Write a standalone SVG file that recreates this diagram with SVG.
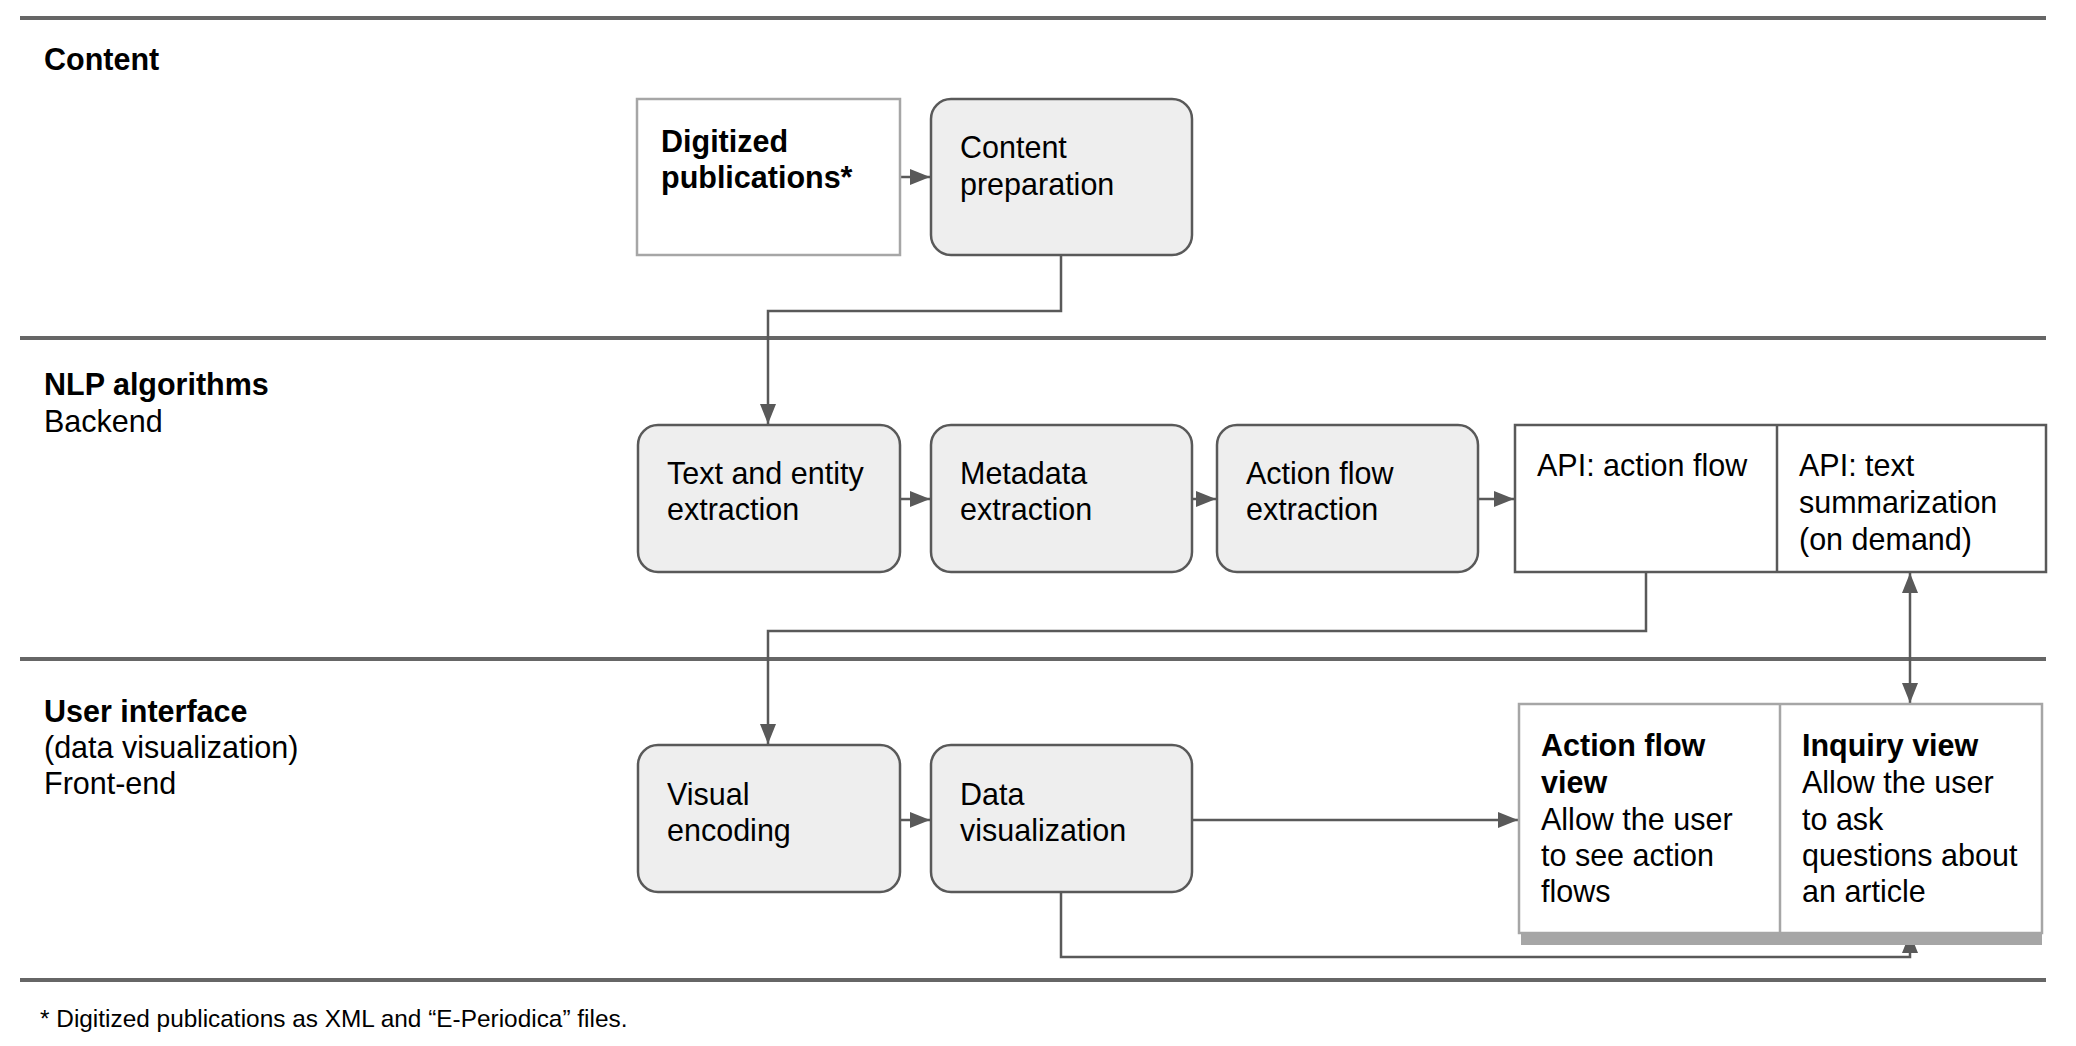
<svg xmlns="http://www.w3.org/2000/svg" width="2076" height="1046" viewBox="0 0 2076 1046">
<style>
text{font-family:"Liberation Sans",Arial,sans-serif;font-size:30.5px;fill:#000}
.b{font-weight:bold}
.fn{font-size:24.4px}
.sec{stroke:#666;stroke-width:4;fill:none}
.proc{fill:#eeeeee;stroke:#595959;stroke-width:2.5}
.plain{fill:#fff;stroke:#595959;stroke-width:2.5}
.light{fill:#fff;stroke:#a6a6a6;stroke-width:2.5}
.con{stroke:#595959;stroke-width:2.5;fill:none}
</style>
<defs>
<marker id="ah" viewBox="0 0 20 16" refX="20" refY="8" markerWidth="20" markerHeight="16" markerUnits="userSpaceOnUse" orient="auto-start-reverse">
<path d="M0,0 L20,8 L0,16 Z" fill="#595959"/>
</marker>
</defs>
<rect width="2076" height="1046" fill="#fff"/>
<g id="sections">
<line class="sec" x1="20" y1="18" x2="2046" y2="18"/>
<line class="sec" x1="20" y1="338" x2="2046" y2="338"/>
<line class="sec" x1="20" y1="659" x2="2046" y2="659"/>
<line class="sec" x1="20" y1="980" x2="2046" y2="980"/>
<text class="b" x="44" y="70">Content</text>
<text x="44" y="395"><tspan class="b">NLP algorithms</tspan><tspan x="44" y="432">Backend</tspan></text>
<text x="44" y="722"><tspan class="b">User interface</tspan><tspan x="44" y="758">(data visualization)</tspan><tspan x="44" y="794">Front-end</tspan></text>
<text class="fn" x="40" y="1027">* Digitized publications as XML and “E-Periodica” files.</text>
</g>
<g id="connectors">
<line class="con" x1="900" y1="177" x2="930" y2="177" marker-end="url(#ah)"/>
<polyline class="con" points="1061,255 1061,311 768,311 768,424" marker-end="url(#ah)"/>
<line class="con" x1="900" y1="499" x2="930" y2="499" marker-end="url(#ah)"/>
<line class="con" x1="1192" y1="499" x2="1216" y2="499" marker-end="url(#ah)"/>
<line class="con" x1="1478" y1="499" x2="1514" y2="499" marker-end="url(#ah)"/>
<polyline class="con" points="1646,572 1646,631 768,631 768,744" marker-end="url(#ah)"/>
<line class="con" x1="1910" y1="573" x2="1910" y2="703" marker-start="url(#ah)" marker-end="url(#ah)"/>
<line class="con" x1="900" y1="820" x2="930" y2="820" marker-end="url(#ah)"/>
<line class="con" x1="1192" y1="820" x2="1518" y2="820" marker-end="url(#ah)"/>
<polyline class="con" points="1061,892 1061,957 1910,957 1910,933" marker-end="url(#ah)"/>
</g>
<g id="digitized">
<rect class="light" x="637" y="99" width="263" height="156"/>
<text class="b" x="661" y="152">Digitized<tspan x="661" y="188">publications*</tspan></text>
</g>
<g id="content-prep">
<rect class="proc" x="931" y="99" width="261" height="156" rx="20"/>
<text x="960" y="158">Content<tspan x="960" y="195">preparation</tspan></text>
</g>
<g id="text-entity">
<rect class="proc" x="638" y="425" width="262" height="147" rx="20"/>
<text x="667" y="484">Text and entity<tspan x="667" y="520">extraction</tspan></text>
</g>
<g id="metadata">
<rect class="proc" x="931" y="425" width="261" height="147" rx="20"/>
<text x="960" y="484">Metadata<tspan x="960" y="520">extraction</tspan></text>
</g>
<g id="action-flow-extraction">
<rect class="proc" x="1217" y="425" width="261" height="147" rx="20"/>
<text x="1246" y="484">Action flow<tspan x="1246" y="520">extraction</tspan></text>
</g>
<g id="api">
<rect class="plain" x="1515" y="425" width="531" height="147"/>
<line class="plain" x1="1777" y1="425" x2="1777" y2="572"/>
<text x="1537" y="476">API: action flow</text>
<text x="1799" y="476">API: text<tspan x="1799" y="513">summarization</tspan><tspan x="1799" y="550">(on demand)</tspan></text>
</g>
<g id="visual-encoding">
<rect class="proc" x="638" y="745" width="262" height="147" rx="20"/>
<text x="667" y="805">Visual<tspan x="667" y="841">encoding</tspan></text>
</g>
<g id="data-visualization">
<rect class="proc" x="931" y="745" width="261" height="147" rx="20"/>
<text x="960" y="805">Data<tspan x="960" y="841">visualization</tspan></text>
</g>
<g id="views">
<rect x="1521" y="933" width="521" height="12" fill="#a6a6a6"/>
<rect class="light" x="1519" y="704" width="523" height="229"/>
<line class="light" x1="1780" y1="704" x2="1780" y2="933"/>
<text x="1541" y="756"><tspan class="b">Action flow</tspan><tspan class="b" x="1541" y="793">view</tspan><tspan x="1541" y="830">Allow the user</tspan><tspan x="1541" y="866">to see action</tspan><tspan x="1541" y="902">flows</tspan></text>
<text x="1802" y="756"><tspan class="b">Inquiry view</tspan><tspan x="1802" y="793">Allow the user</tspan><tspan x="1802" y="830">to ask</tspan><tspan x="1802" y="866">questions about</tspan><tspan x="1802" y="902">an article</tspan></text>
</g>
</svg>
